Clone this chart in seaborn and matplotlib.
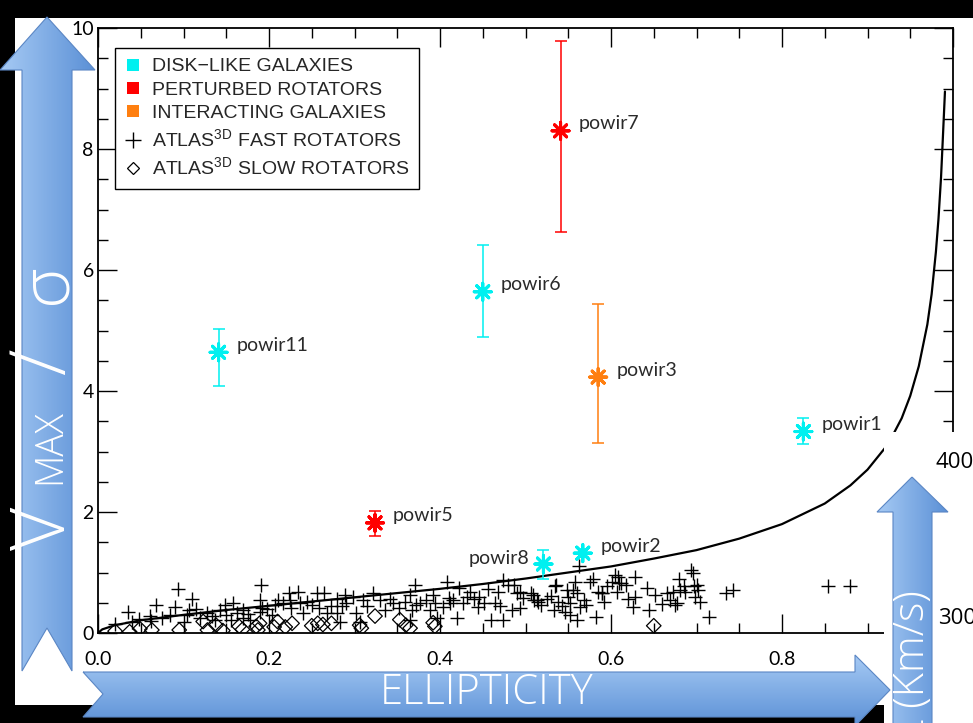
import numpy as np
import pandas as pd
import matplotlib
matplotlib.use("Agg")
import matplotlib.pyplot as plt
import seaborn as sns
from matplotlib.patches import Polygon, Rectangle
from matplotlib.lines import Line2D
from matplotlib.colors import LinearSegmentedColormap
from matplotlib import font_manager as fm

# ---------------- data ----------------
names = ["powir11", "powir6", "powir3", "powir7", "powir1", "powir5", "powir8", "powir2"]
ell = [0.141, 0.450, 0.585, 0.541, 0.825, 0.324, 0.521, 0.567]
vsig = [4.64, 5.64, 4.23, 8.30, 3.33, 1.82, 1.14, 1.32]
err_lo = [0.55, 0.75, 1.09, 1.68, 0.21, 0.21, 0.25, 0.07]
err_hi = [0.38, 0.77, 1.20, 1.48, 0.22, 0.20, 0.24, 0.07]
group = ["disk", "disk", "inter", "pert", "disk", "pert", "disk", "disk"]
label_side = ["r", "r", "r", "r", "r", "r", "l", "r"]

fast_eps = [0.093, 0.035, 0.048, 0.061, 0.068, 0.062, 0.084, 0.090, 0.104, 0.110, 0.100, 0.107,
            0.119, 0.127, 0.137, 0.143, 0.149, 0.150, 0.158, 0.162, 0.170, 0.170, 0.178, 0.191,
            0.189, 0.190, 0.192, 0.203, 0.211, 0.216, 0.223, 0.225, 0.226, 0.234, 0.236, 0.240,
            0.250, 0.256, 0.258, 0.264, 0.268, 0.272, 0.279, 0.280, 0.289, 0.290, 0.283, 0.302,
            0.310, 0.306, 0.322, 0.330, 0.336, 0.345, 0.359, 0.365, 0.367, 0.365, 0.371, 0.377,
            0.384, 0.388, 0.394, 0.396, 0.404, 0.408, 0.410, 0.412, 0.420, 0.422, 0.427, 0.435,
            0.440, 0.444, 0.446, 0.451, 0.460, 0.464, 0.468, 0.474, 0.474, 0.480, 0.484, 0.490,
            0.494, 0.507, 0.510, 0.562, 0.486, 0.494, 0.509, 0.513, 0.525, 0.530, 0.536, 0.538,
            0.548, 0.550, 0.552, 0.558, 0.560, 0.564, 0.568, 0.552, 0.560, 0.546, 0.571, 0.575,
            0.583, 0.585, 0.589, 0.595, 0.601, 0.605, 0.607, 0.609, 0.618, 0.628, 0.628, 0.626,
            0.642, 0.644, 0.665, 0.673, 0.669, 0.675, 0.679, 0.681, 0.685, 0.694, 0.696, 0.700,
            0.702, 0.704, 0.715, 0.735, 0.743, 0.854, 0.880, 0.515, 0.535, 0.555, 0.579, 0.589,
            0.608, 0.612, 0.677, 0.687, 0.697, 0.698, 0.020, 0.040, 0.075, 0.115, 0.133, 0.155,
            0.175, 0.198, 0.207, 0.245, 0.285, 0.298, 0.315, 0.342, 0.352, 0.372, 0.392, 0.415,
            0.432, 0.456, 0.470, 0.497, 0.518, 0.543, 0.533, 0.592, 0.620, 0.652, 0.660]
fast_vs = [0.72, 0.34, 0.23, 0.28, 0.46, 0.20, 0.30, 0.43, 0.30, 0.56, 0.19, 0.38,
           0.24, 0.33, 0.21, 0.38, 0.46, 0.30, 0.49, 0.33, 0.38, 0.25, 0.21, 0.79,
           0.55, 0.35, 0.42, 0.30, 0.55, 0.49, 0.66, 0.55, 0.41, 0.68, 0.49, 0.33,
           0.46, 0.66, 0.41, 0.66, 0.33, 0.44, 0.57, 0.33, 0.63, 0.49, 0.19, 0.33,
           0.55, 0.19, 0.66, 0.55, 0.38, 0.49, 0.52, 0.63, 0.38, 0.21, 0.79, 0.49,
           0.55, 0.38, 0.49, 0.25, 0.43, 0.85, 0.58, 0.49, 0.24, 0.74, 0.49, 0.68,
           0.57, 0.43, 0.60, 0.49, 0.21, 0.49, 0.68, 0.88, 0.21, 0.79, 0.38, 0.66,
           0.41, 0.66, 0.55, 1.10, 0.79, 0.68, 0.63, 0.55, 0.57, 0.61, 0.79, 0.52,
           0.71, 0.60, 0.50, 0.85, 0.66, 0.43, 0.55, 0.30, 0.21, 0.35, 0.47, 0.85,
           0.27, 0.68, 0.66, 0.77, 0.85, 0.96, 0.68, 0.82, 0.80, 0.93, 0.60, 0.43,
           0.74, 0.38, 0.66, 0.68, 0.55, 0.47, 0.90, 0.71, 0.77, 1.04, 0.99, 0.80,
           0.71, 0.52, 0.27, 0.66, 0.71, 0.78, 0.77, 0.51, 0.77, 0.71, 0.90, 0.66,
           0.93, 0.82, 0.50, 0.68, 0.77, 0.60, 0.15, 0.18, 0.25, 0.40, 0.28, 0.22,
           0.31, 0.40, 0.47, 0.52, 0.44, 0.60, 0.45, 0.57, 0.42, 0.46, 0.62, 0.55,
           0.59, 0.72, 0.44, 0.58, 0.47, 0.45, 0.38, 0.52, 0.57, 0.62, 0.48]

slow_eps = [0.020, 0.037, 0.049, 0.063, 0.095, 0.123, 0.128, 0.138, 0.146, 0.165, 0.169, 0.185,
            0.189, 0.187, 0.206, 0.210, 0.219, 0.227, 0.250, 0.257, 0.263, 0.273, 0.306, 0.308,
            0.324, 0.353, 0.360, 0.365, 0.392, 0.394, 0.650]
slow_vs = [0.03, 0.02, 0.07, 0.05, 0.05, 0.19, 0.05, 0.13, 0.04, 0.11, 0.06, 0.11,
           0.16, 0.05, 0.10, 0.19, 0.10, 0.16, 0.12, 0.16, 0.14, 0.16, 0.13, 0.08,
           0.28, 0.22, 0.13, 0.08, 0.17, 0.11, 0.12]

curve_eps = [0.0, 0.005, 0.02, 0.05, 0.1, 0.15, 0.2, 0.25, 0.3, 0.35, 0.4, 0.45, 0.5, 0.55, 0.6,
             0.65, 0.7, 0.75, 0.8, 0.85, 0.88, 0.9, 0.92, 0.93, 0.94, 0.95, 0.96, 0.97, 0.975,
             0.98, 0.983, 0.986, 0.988, 0.9906]
curve_vs = [0.0, 0.06, 0.13, 0.21, 0.30, 0.38, 0.45, 0.52, 0.59, 0.66, 0.73, 0.81, 0.90, 1.00, 1.10,
            1.23, 1.37, 1.56, 1.80, 2.14, 2.44, 2.70, 3.05, 3.28, 3.55, 3.92, 4.41, 5.10, 5.60,
            6.30, 6.84, 7.53, 8.14, 8.95]

legend_labels = ["DISK\u2212LIKE GALAXIES", "PERTURBED ROTATORS", "INTERACTING GALAXIES",
                 "ATLAS$^{\\mathrm{3D}}$ FAST ROTATORS", "ATLAS$^{\\mathrm{3D}}$ SLOW ROTATORS"]
xtick_labels = ["0.0", "0.2", "0.4", "0.6", "0.8", ""]
ytick_labels = ["0", "2", "4", "6", "8", "10"]

colors = {"disk": "#00f0f0", "pert": "#ff0000", "inter": "#ff7f10"}

# ---------------- fonts ----------------
sns.set_theme(style="white")
avail = {f.name for f in fm.fontManager.ttflist}
def pick(*names_):
    for n in names_:
        if n in avail:
            return n
    return "DejaVu Sans"
TICK_FONT = pick("Lato", "DejaVu Sans")
LEG_FONT = pick("Liberation Sans Narrow", "Liberation Sans")
LAB_FONT = pick("Lato", "DejaVu Sans")
SLIDE_FONT = pick("Open Sans", "Lato")
plt.rcParams["font.family"] = [TICK_FONT, "DejaVu Sans"]
plt.rcParams["mathtext.fontset"] = "custom"
plt.rcParams["mathtext.rm"] = LEG_FONT

W, H = 973, 723
fig = plt.figure(figsize=(W / 100, H / 100), dpi=100)
fig.patch.set_facecolor("black")
fig.patches.append(Rectangle((15 / W, (H - 705) / H), (W - 15) / W, 687 / H,
                             transform=fig.transFigure, facecolor="white", edgecolor="none", zorder=0))

def px_axes(x0, y0, x1, y1):
    return [x0 / W, (H - y1) / H, (x1 - x0) / W, (y1 - y0) / H]

ax = fig.add_axes(px_axes(98, 28, 953, 633), zorder=2)
ax.set_facecolor("white")
ax.set_xlim(0, 1.0)
ax.set_ylim(0, 10)

# model curve
sns.lineplot(x=curve_eps, y=curve_vs, ax=ax, color="black", lw=1.6, sort=False, zorder=3)

# ATLAS3D
sns.scatterplot(x=fast_eps, y=fast_vs, ax=ax, marker="+", s=110, color="black", linewidth=1.0, zorder=4)
sns.scatterplot(x=slow_eps, y=slow_vs, ax=ax, marker="D", s=55, facecolor="none",
                edgecolor="black", linewidth=0.9, zorder=4)

df = pd.DataFrame({"name": names, "ell": ell, "v": vsig, "lo": err_lo, "hi": err_hi,
                   "group": group, "side": label_side})
for _, r in df.iterrows():
    c = colors[r.group]
    ax.errorbar(r.ell, r.v, yerr=[[r.lo], [r.hi]], fmt="none", ecolor=c, elinewidth=1.1,
                capsize=4, capthick=1.1, zorder=5)
sns.scatterplot(data=df, x="ell", y="v", hue="group", palette=colors, ax=ax,
                marker=(8, 2, 0), s=150, linewidth=2.2, legend=False, zorder=6)
for _, r in df.iterrows():
    if r.side == "r":
        ax.annotate(r["name"], (r.ell, r.v), xytext=(13, 5), textcoords="offset points",
                    ha="left", va="center", fontsize=14, color="#2a2a2a",
                    family=LAB_FONT, fontweight="normal", zorder=7)
    else:
        ax.annotate(r["name"], (r.ell, r.v), xytext=(-10, 4), textcoords="offset points",
                    ha="right", va="center", fontsize=14, color="#2a2a2a",
                    family=LAB_FONT, fontweight="normal", zorder=7)

ax.set_xlabel("")
ax.set_ylabel("")
ax.set_xticks([0, 0.2, 0.4, 0.6, 0.8, 1.0])
ax.set_xticklabels(xtick_labels)
ax.set_yticks([0, 2, 4, 6, 8, 10])
ax.set_yticklabels(ytick_labels)
ax.set_xticks(np.arange(0, 1.001, 0.05), minor=True)
ax.set_yticks(np.arange(0, 10.001, 0.5), minor=True)
ax.tick_params(which="major", direction="in", length=14, width=1.0, top=True, right=True,
               bottom=True, left=True, colors="black", labelsize=14)
ax.tick_params(which="minor", direction="in", length=7, width=1.0, top=True, right=True,
               bottom=True, left=True, colors="black")
ax.tick_params(axis="x", which="major", pad=13)
ax.tick_params(axis="y", which="major", pad=3)
for sp in ax.spines.values():
    sp.set_visible(True)
    sp.set_color("black")
    sp.set_linewidth(1.3)

# legend
handles = [
    Line2D([], [], ls="none", marker="s", ms=9, mew=0, color=colors["disk"]),
    Line2D([], [], ls="none", marker="s", ms=9, mew=0, color=colors["pert"]),
    Line2D([], [], ls="none", marker="s", ms=9, mew=0, color=colors["inter"]),
    Line2D([], [], ls="none", marker="+", ms=11, mew=1.0, color="black"),
    Line2D([], [], ls="none", marker="D", ms=6, mew=0.9, mfc="none", color="black"),
]
leg = ax.legend(handles, legend_labels, loc="upper left",
                bbox_to_anchor=(115 / W, 1 - 48 / H), bbox_transform=fig.transFigure,
                borderaxespad=0, frameon=True, fancybox=False, framealpha=1,
                edgecolor="black", prop={"family": LEG_FONT, "size": 14},
                labelspacing=0.3, handlelength=0.9, handletextpad=0.5, borderpad=0.5)
leg.get_frame().set_linewidth(1.0)
leg.set_zorder(8)

# ---------------- slide overlay ----------------
ov = fig.add_axes([0, 0, 1, 1], zorder=10)
ov.set_xlim(0, W)
ov.set_ylim(H, 0)
ov.axis("off")
ov.patch.set_alpha(0)

ov.add_patch(Rectangle((884, 432), W - 884, H - 432, facecolor="white", edgecolor="none", zorder=1))
ov.text(936, 462, "400", fontsize=16, family=SLIDE_FONT, color="black", ha="left", va="center", zorder=1.5)
ov.text(938, 618, "300", fontsize=16, family=SLIDE_FONT, color="black", ha="left", va="center", zorder=1.5)

light, dark = "#a6caf4", "#5b90d6"
cmap = LinearSegmentedColormap.from_list("arrowgrad", [light, dark])

def grad_poly(pts, horizontal=True):
    poly = Polygon(pts, closed=True, facecolor="none", edgecolor="#5a86c4", lw=0.8, zorder=3)
    ov.add_patch(poly)
    xs = [p[0] for p in pts]
    ys = [p[1] for p in pts]
    g = np.linspace(0, 1, 256)
    arr = g[None, :] if horizontal else g[:, None]
    im = ov.imshow(arr, cmap=cmap, extent=(min(xs), max(xs), max(ys), min(ys)),
                   aspect="auto", zorder=2, interpolation="bicubic")
    im.set_clip_path(poly)

left_arrow = [(47, 17), (95, 70), (72, 70), (72, 671), (47, 628), (22, 671), (22, 70), (0, 70)]
bottom_arrow = [(83, 672), (855, 672), (855, 655), (890, 690), (855, 726), (855, 717),
                (83, 717), (103, 694)]
right_arrow = [(912, 477), (948, 512), (932, 512), (932, 726), (893, 726), (893, 512), (877, 512)]
grad_poly(left_arrow, horizontal=True)
grad_poly(bottom_arrow, horizontal=False)
grad_poly(right_arrow, horizontal=True)

ov.text(45, 528, "V", rotation=90, fontsize=54, color="white", family=SLIDE_FONT,
        fontweight="light", ha="center", va="center", zorder=4)
ov.text(50, 447, "MAX", rotation=90, fontsize=27, color="white", family=SLIDE_FONT,
        fontweight="light", ha="center", va="center", zorder=4)
ov.text(45, 362, "/", rotation=90, fontsize=56, color="white", family=SLIDE_FONT,
        fontweight="light", ha="center", va="center", zorder=4)
ov.text(47, 284, "\u03c3", rotation=90, fontsize=50, color="white", family=SLIDE_FONT,
        fontweight="light", ha="center", va="center", zorder=4)
ov.text(487, 693, "ELLIPTICITY", fontsize=30, color="white", family=SLIDE_FONT,
        fontweight="light", ha="center", va="center", zorder=4)
ov.text(913, 740, "L (Km/s)", rotation=90, fontsize=30, color="white", family=SLIDE_FONT,
        fontweight="light", ha="center", va="bottom", zorder=4)

ov.set_xlim(0, W)
ov.set_ylim(H, 0)
fig.savefig("out.png", dpi=100, facecolor=fig.get_facecolor())
